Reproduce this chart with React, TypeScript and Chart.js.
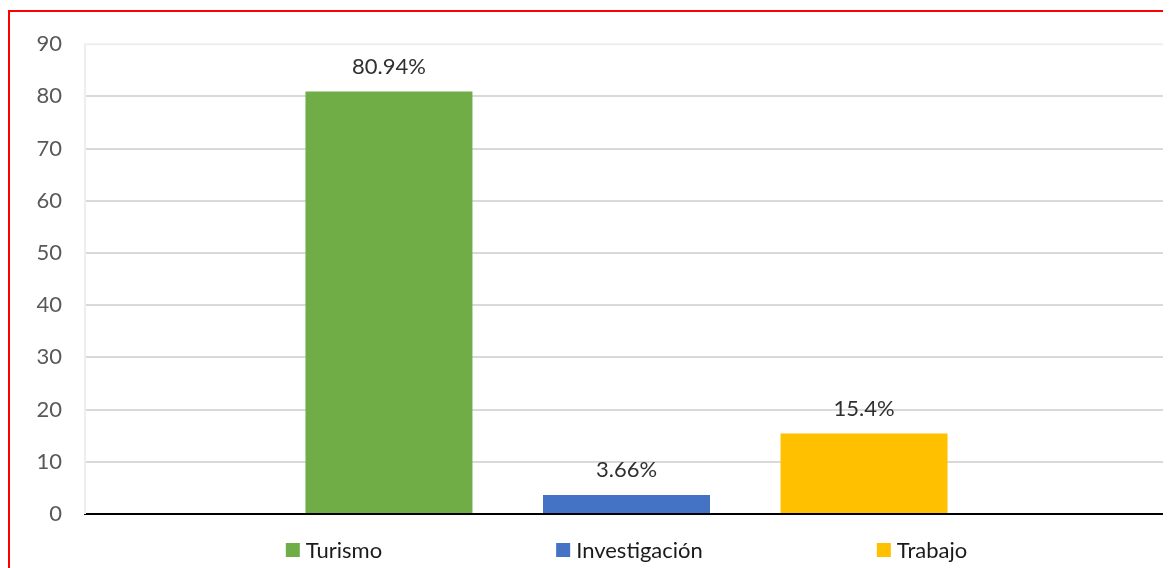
import React, { useEffect, useRef } from "react";
import { Chart, registerables } from "chart.js";

Chart.register(...registerables);

const seriesNames = ["Turismo", "Investigación", "Trabajo"];
const seriesValues = [80.94, 3.66, 15.4];
const seriesColors = ["#70ad47", "#4472c4", "#ffc000"];
const yMin = 0;
const yMax = 90;
const yStep = 10;

const FONT = 'Lato, "Open Sans", sans-serif';
const FONT_SIZE = 22;

const plotBorderPlugin = {
  id: "plotBorder",
  beforeDatasetsDraw(chart: any) {
    const { ctx, chartArea } = chart;
    ctx.save();
    ctx.strokeStyle = "#eeeeee";
    ctx.lineWidth = 2;
    ctx.beginPath();
    ctx.moveTo(chartArea.left, chartArea.bottom);
    ctx.lineTo(chartArea.left, chartArea.top);
    ctx.lineTo(chartArea.right, chartArea.top);
    ctx.lineTo(chartArea.right, chartArea.bottom);
    ctx.stroke();
    ctx.restore();
  },
};

const dataLabelPlugin = {
  id: "dataLabels",
  afterDatasetsDraw(chart: any) {
    const { ctx } = chart;
    ctx.save();
    ctx.font = `${FONT_SIZE}px ${FONT}`;
    ctx.fillStyle = "#303030";
    ctx.textAlign = "center";
    ctx.textBaseline = "middle";
    chart.data.datasets.forEach((ds: any, i: number) => {
      const meta = chart.getDatasetMeta(i);
      meta.data.forEach((el: any, j: number) => {
        ctx.fillText(`${ds.data[j]}%`, el.x, el.y - 25);
      });
    });
    ctx.restore();
  },
};

const customLegendPlugin = {
  id: "customLegend",
  afterDraw(chart: any) {
    const { ctx, chartArea } = chart;
    const box = 14;
    const gap = 6;
    const spacing = 174;
    const cy = 542;
    ctx.save();
    ctx.font = `${FONT_SIZE}px ${FONT}`;
    ctx.textBaseline = "middle";
    ctx.textAlign = "left";
    const items = chart.data.datasets.map((ds: any) => ({
      text: ds.label,
      color: ds.backgroundColor,
      w: box + gap + ctx.measureText(ds.label).width,
    }));
    const total =
      items.reduce((s: number, it: any) => s + it.w, 0) + spacing * (items.length - 1);
    let x = (chartArea.left + chartArea.right) / 2 - total / 2;
    items.forEach((it: any) => {
      ctx.fillStyle = it.color;
      ctx.fillRect(x, cy - box / 2, box, box);
      ctx.fillStyle = "#1a1a1a";
      ctx.fillText(it.text, x + box + gap, cy + 1);
      x += it.w + spacing;
    });
    ctx.restore();
  },
};

export default function App() {
  const canvasRef = useRef<HTMLCanvasElement | null>(null);

  useEffect(() => {
    if (!canvasRef.current) return;
    const chart = new Chart(canvasRef.current, {
      type: "bar",
      data: {
        labels: [""],
        datasets: seriesNames.map((name, i) => ({
          label: name,
          data: [seriesValues[i]],
          backgroundColor: seriesColors[i],
          borderWidth: 0,
          categoryPercentage: 0.658,
          barPercentage: 0.703,
        })),
      },
      options: {
        responsive: false,
        maintainAspectRatio: false,
        animation: false,
        layout: { padding: { left: 0, right: 3, top: 33, bottom: 54 } },
        plugins: {
          legend: { display: false },
          tooltip: { enabled: false },
          title: { display: false },
        },
        scales: {
          x: {
            type: "category",
            z: 1,
            ticks: { display: false },
            grid: { display: false, drawTicks: false },
            border: { display: true, color: "#000000", width: 2 },
          },
          y: {
            min: yMin,
            max: yMax,
            ticks: {
              stepSize: yStep,
              padding: 23,
              color: "#595959",
              font: { family: FONT, size: FONT_SIZE },
            },
            grid: {
              drawTicks: false,
              lineWidth: 2,
              color: (c: any) =>
                c.tick && (c.tick.value === yMin || c.tick.value === yMax)
                  ? "rgba(0,0,0,0)"
                  : "#d9d9d9",
            },
            border: { display: false },
            afterFit: (scale: any) => {
              scale.width = 77;
            },
          },
        },
      },
      plugins: [plotBorderPlugin, dataLabelPlugin, customLegendPlugin],
    });
    return () => chart.destroy();
  }, []);

  return (
    <div
      style={{
        position: "relative",
        width: 1163,
        height: 560,
        overflow: "hidden",
        background: "#ffffff",
      }}
    >
      <canvas
        ref={canvasRef}
        width={1163}
        height={560}
        style={{ position: "absolute", left: 0, top: 0, display: "block" }}
      />
      <div
        style={{
          position: "absolute",
          left: 0,
          top: 2,
          width: 1400,
          height: 800,
          border: "2px solid #ff0000",
          pointerEvents: "none",
        }}
      />
    </div>
  );
}
